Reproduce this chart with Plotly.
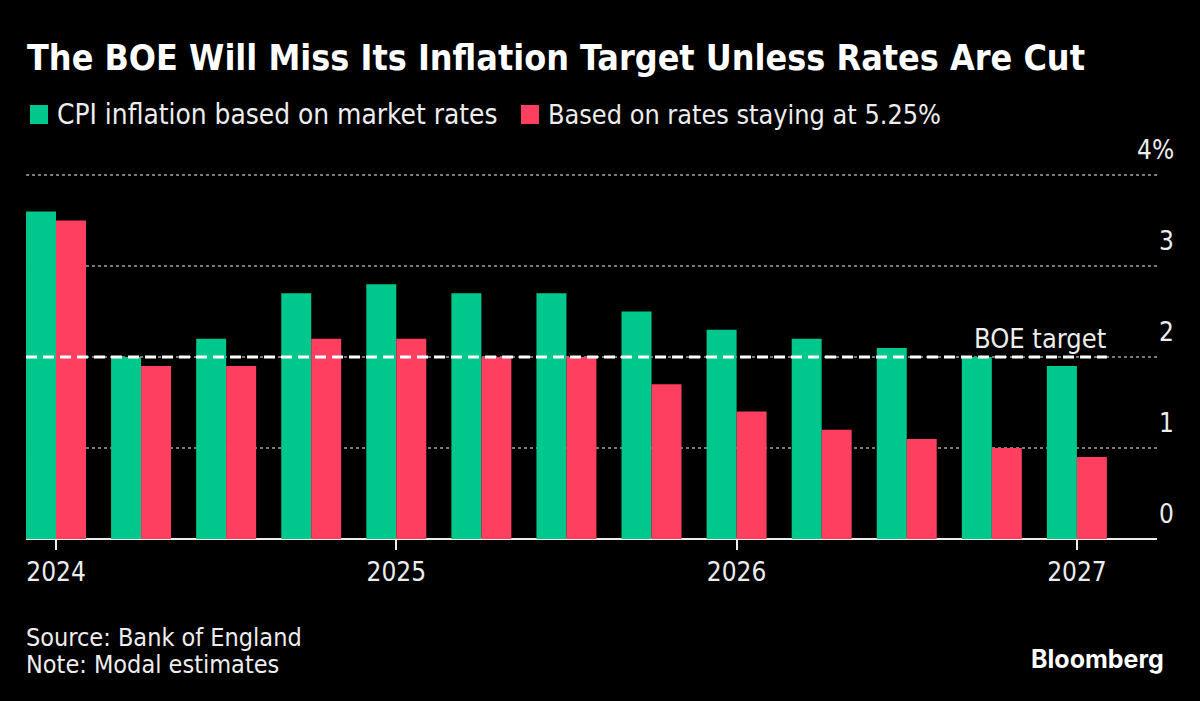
import plotly.graph_objects as go

FONT = "DejaVu Sans Condensed, DejaVu Sans"

# quarters as fractional years, Q1 2024 to Q1 2027
quarters = [2024, 2024.25, 2024.5, 2024.75, 2025, 2025.25, 2025.5, 2025.75,
            2026, 2026.25, 2026.5, 2026.75, 2027]
market_rates = [3.6, 2.0, 2.2, 2.7, 2.8, 2.7, 2.7, 2.5, 2.3, 2.2, 2.1, 2.0, 1.9]
constant_rates = [3.5, 1.9, 1.9, 2.2, 2.2, 2.0, 2.0, 1.7, 1.4, 1.2, 1.1, 1.0, 0.9]
boe_target = 2
x_ticks = [2024, 2025, 2026, 2027]
y_ticks = [0, 1, 2, 3, 4]
y_labels = ["0", "1", "2", "3", "4%"]

GREEN = "#00C78B"
RED = "#FF3F60"
WIDTH, HEIGHT = 1200, 701
LEFT, RIGHT, TOP, BOTTOM = 26, 43, 170, 162
Y_MAX = 4 + 5 / 91  # a little headroom so the 4% gridline is drawn


def px(x):
    return (x - LEFT) / (WIDTH - LEFT - RIGHT)


def py(y):
    return (HEIGHT - BOTTOM - y) / (HEIGHT - TOP - BOTTOM)


fig = go.Figure()
fig.add_trace(go.Bar(x=quarters, y=market_rates, name="CPI inflation based on market rates",
                     marker=dict(color=GREEN, line_width=0)))
fig.add_trace(go.Bar(x=quarters, y=constant_rates, name="Based on rates staying at 5.25%",
                     marker=dict(color=RED, line_width=0)))
# half a group either side of the first and last quarter
fig.add_trace(go.Scatter(x=[quarters[0] - 0.088, quarters[-1] + 0.088], y=[boe_target, boe_target],
                         mode="lines", line=dict(color="white", width=3, dash="11px 6px"),
                         hoverinfo="skip"))

annotations = []
for val, label in zip(y_ticks, y_labels):
    annotations.append(dict(x=px(1176), xref="paper", y=val, yref="y", text=label, showarrow=False,
                            xanchor="right", yanchor="middle", yshift=25,
                            font=dict(size=26, color="#EDEDED", family=FONT)))


def add_text(x, y, text, size, anchor="left", color="#EDEDED", family=FONT):
    annotations.append(dict(x=px(x), y=py(y), xref="paper", yref="paper", text=text, showarrow=False,
                            xanchor=anchor, yanchor="middle", font=dict(size=size, color=color, family=family)))


add_text(25, 57, "<b>The BOE Will Miss Its Inflation Target Unless Rates Are Cut</b>", 35.6, color="white")
add_text(55, 115, "CPI inflation based on market rates", 27.8)
add_text(546, 115, "Based on rates staying at 5.25%", 26.8)
add_text(972, 338, "BOE target", 27)
add_text(24, 637, "Source: Bank of England", 25)
add_text(24, 664, "Note: Modal estimates", 25)
add_text(1166, 659, "<b>Bloomberg</b>", 25, anchor="right", color="white", family="Inter")

shapes = [
    dict(type="rect", xref="paper", yref="paper", x0=px(30), x1=px(48), y0=py(105), y1=py(124),
         fillcolor=GREEN, line_width=0),
    dict(type="rect", xref="paper", yref="paper", x0=px(521), x1=px(539), y0=py(105), y1=py(124),
         fillcolor=RED, line_width=0),
]

fig.update_layout(
    width=WIDTH,
    height=HEIGHT,
    margin=dict(l=LEFT, r=RIGHT, t=TOP, b=BOTTOM, pad=0),
    paper_bgcolor="black",
    plot_bgcolor="black",
    barmode="group",
    bargap=0.295,
    bargroupgap=0,
    showlegend=False,
    annotations=annotations,
    shapes=shapes,
    xaxis=dict(
        range=[2024 - 30 / 340.3, 2024 + 1101 / 340.3],
        tickvals=x_ticks,
        ticktext=[str(t) for t in x_ticks],
        ticks="outside",
        ticklen=10,
        tickwidth=1.5,
        tickcolor="#EDEDED",
        showgrid=False,
        showline=False,
        zeroline=False,
        tickfont=dict(size=26, color="#EDEDED", family=FONT),
    ),
    yaxis=dict(
        range=[0, Y_MAX],
        tickvals=y_ticks,
        showticklabels=False,
        showgrid=True,
        gridcolor="#7A7A7A",
        griddash="dot",
        gridwidth=1.5,
        zeroline=True,
        zerolinecolor="#EDEDED",
        zerolinewidth=2,
    ),
)

fig.write_html("out.html", config=dict(displayModeBar=False),
               post_script="document.body.style.margin = '0';")
